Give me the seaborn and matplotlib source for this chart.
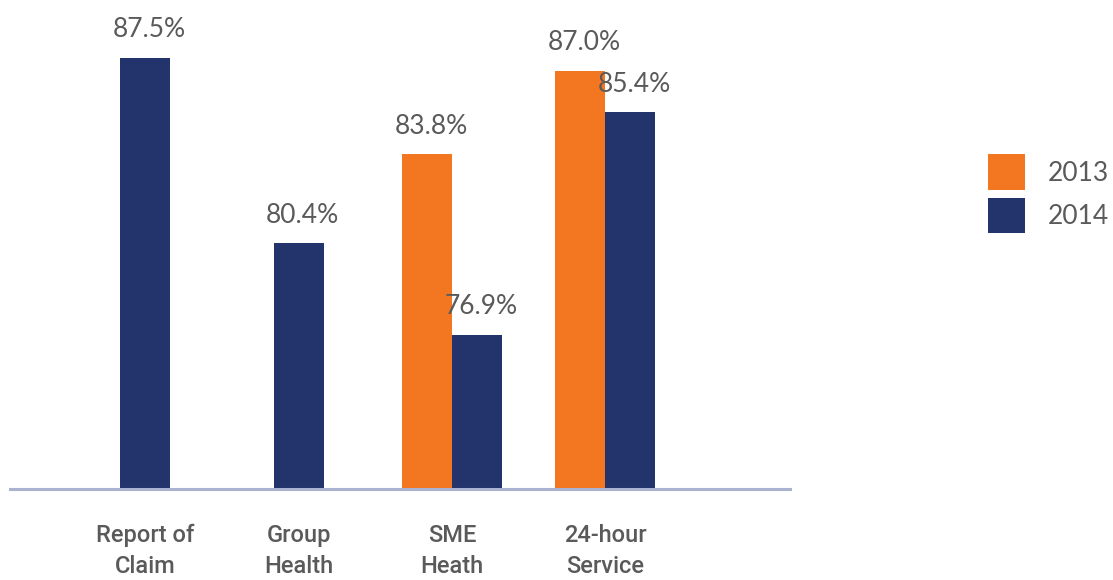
import matplotlib
matplotlib.use("Agg")
import matplotlib.pyplot as plt
from matplotlib.patches import Patch
import pandas as pd
import seaborn as sns
import seaborn.objects as so

# Survey results (%), by service area and year
categories = ["Report of\nClaim", "Group\nHealth", "SME\nHeath", "24-hour\nService"]
years = ["2013", "2014"]
values_2013 = [None, None, 83.8, 87.0]
values_2014 = [87.5, 80.4, 76.9, 85.4]

colors = {"2013": "#f37721", "2014": "#23336b"}
text_grey = "#5a5a5a"

rows = []
for cat, v13, v14 in zip(categories, values_2013, values_2014):
    for yr, v in zip(years, (v13, v14)):
        if v is not None:
            rows.append({"category": cat, "year": yr, "value": v})
df = pd.DataFrame(rows)

sns.set_theme(style="white")
fig = plt.figure(figsize=(11.13, 5.8), dpi=100)
ax = fig.add_axes([10 / 1113, 91 / 580, 780 / 1113, 489 / 580])

(
    so.Plot(df, x="category", y="value", color="year")
    .add(so.Bar(width=0.652, alpha=1, edgewidth=0), so.Dodge(empty="drop"))
    .scale(x=so.Nominal(order=categories), color=so.Nominal(colors, order=years))
    .on(ax)
    .plot()
)
# drop the automatic figure legend; a custom one is drawn below
for lg in fig.legends:
    lg.set_visible(False)
fig.legends.clear()

ax.set_facecolor("white")
ax.grid(False)
ax.set_ylim(71, 89.7)
ax.set_xlim(-0.883, 4.205)
for side in ("left", "right", "top"):
    ax.spines[side].set_visible(False)
ax.spines["bottom"].set_visible(True)
ax.spines["bottom"].set_color("#a9b3d0")
ax.spines["bottom"].set_linewidth(2.2)
ax.set_yticks([])
ax.set_xlabel("")
ax.set_ylabel("")
ax.tick_params(axis="x", length=0, pad=25)
for lbl in ax.get_xticklabels():
    lbl.set_fontfamily(["Roboto", "DejaVu Sans"])
    lbl.set_fontweight("medium")
    lbl.set_fontsize(17)
    lbl.set_color(text_grey)
    lbl.set_linespacing(1.45)

# Value labels above each bar
for bar in ax.patches:
    h = bar.get_y() + bar.get_height()
    ax.annotate(f"{h:.1f}%", (bar.get_x() + bar.get_width() / 2, h),
                xytext=(3, 11), textcoords="offset points",
                ha="center", va="bottom", fontsize=19, color=text_grey,
                family=["Lato", "DejaVu Sans"], fontweight="normal")

handles = [Patch(facecolor=colors[y], edgecolor="none", label=y) for y in years]
fig.legend(handles=handles, loc="center left", bbox_to_anchor=(988 / 1113, 0.666),
           frameon=False, handlelength=1.4, handleheight=1.7,
           handletextpad=0.85, labelspacing=0.3, borderpad=0, borderaxespad=0,
           labelcolor=text_grey,
           prop={"family": ["Lato", "DejaVu Sans"], "size": 19, "weight": "normal"})

fig.savefig("out.png", dpi=100, facecolor="white")
